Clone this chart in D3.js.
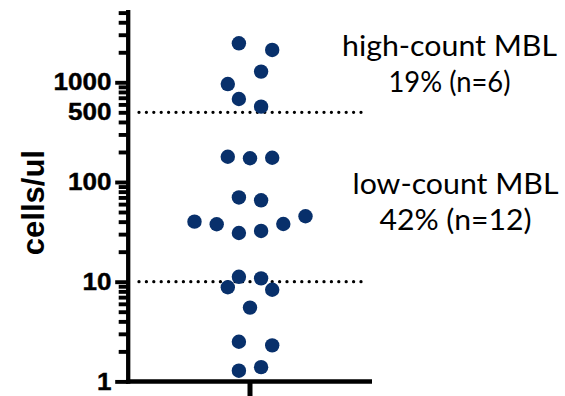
<!DOCTYPE html>
<html>
<head>
<meta charset="utf-8">
<script src="https://cdn.jsdelivr.net/npm/d3@7"></script>
<style>
  html, body { margin: 0; padding: 0; background: #fff; }
  svg { display: block; }
</style>
</head>
<body>
<svg id="chart" width="565" height="396"></svg>
<script>
// Absolute MBL clone counts (cells/ul), one per subject
const cellCounts = [2460, 2110, 1280, 960, 680, 570,
                    179, 173, 175, 70, 65.5,
                    40, 37.7, 30.8, 32.3, 37.9, 45.3,
                    11.2, 10.8, 8.8, 8.3, 5.5,
                    2.5, 2.3, 1.28, 1.39];
// Scatter lane of each point (beeswarm column, relative to the group centre)
const lanes = [-1, 2, 1, -2, -1, 1,
               -2, 0, 2, -1, 1,
               -5, -3, -1, 1, 3, 5,
               -1, 1, -2, 2, 0,
               -1, 2, -1, 1];
const categories = ["MBL"];
// Cut-offs separating low-count and high-count MBL
const cutoffs = [500, 10];
const tickLabels = [1, 10, 100, 500, 1000];
const majorTicks = [1, 10, 100, 1000];
const groupText = [
  ["high-count MBL", "19% (n=6)"],
  ["low-count MBL", "42% (n=12)"]
];
const yTitle = "cells/ul";

const svg = d3.select("#chart");
const navy = "#08306b";

const y = d3.scaleLog().domain([1, 5000]).range([381.4, 12.6]);
const x = d3.scalePoint().domain(categories).range([128, 372]).padding(0.5);
const laneStep = 11.1;

// Minor ticks: 2..9 of every decade
const minorTicks = [];
for (let p = 0; p < 4; p++) {
  for (let m = 2; m <= 9; m++) {
    const v = m * Math.pow(10, p);
    if (v <= 5000) minorTicks.push(v);
  }
}

// Cut-off reference lines (dotted)
svg.append("g").selectAll("line").data(cutoffs).join("line")
  .attr("x1", 139).attr("x2", 368)
  .attr("y1", d => y(d)).attr("y2", d => y(d))
  .attr("stroke", "#000").attr("stroke-width", 3.3)
  .attr("stroke-linecap", "round")
  .attr("stroke-dasharray", "0 7.4");

// Y axis
const yAxis = svg.append("g").attr("transform", "translate(128.2,0)")
  .call(d3.axisLeft(y)
    .tickValues(minorTicks.concat(majorTicks))
    .tickSize(10)
    .tickSizeOuter(0)
    .tickFormat(() => ""));
yAxis.select(".domain").remove();
yAxis.selectAll(".tick line")
  .attr("stroke", "#000").attr("stroke-width", 3.9)
  .attr("x2", d => majorTicks.includes(d) ? -13 : -9.5);
svg.append("line")
  .attr("x1", 128.2).attr("x2", 128.2)
  .attr("y1", 10).attr("y2", 383.7)
  .attr("stroke", "#000").attr("stroke-width", 4.3);

// Tick labels
svg.append("g").selectAll("text").data(tickLabels).join("text")
  .attr("x", 111.5).attr("y", d => y(d))
  .attr("dy", "0.34em")
  .attr("text-anchor", "end")
  .attr("font-family", "Liberation Sans, Arial, sans-serif")
  .attr("font-weight", "bold").attr("font-size", 24)
  .attr("textLength", d => String(d).length * 14.5)
  .attr("lengthAdjust", "spacingAndGlyphs")
  .attr("stroke", "#000").attr("stroke-width", 0.4)
  .attr("fill", "#000")
  .text(d => d);

// X axis
svg.append("line")
  .attr("x1", 126).attr("x2", 372)
  .attr("y1", 381.5).attr("y2", 381.5)
  .attr("stroke", "#000").attr("stroke-width", 4.5);
svg.append("g").selectAll("line").data(categories).join("line")
  .attr("x1", d => x(d)).attr("x2", d => x(d))
  .attr("y1", 381.5).attr("y2", 396)
  .attr("stroke", "#000").attr("stroke-width", 5);

// Y title
svg.append("text")
  .attr("transform", "translate(44,202.6) rotate(-90)")
  .attr("text-anchor", "middle")
  .attr("font-family", "Liberation Sans, Arial, sans-serif")
  .attr("font-weight", "bold").attr("font-size", 31)
  .attr("fill", "#000")
  .text(yTitle);

// Points
svg.append("g").selectAll("circle").data(cellCounts).join("circle")
  .attr("cx", (d, i) => x(categories[0]) + lanes[i] * laneStep)
  .attr("cy", d => y(d))
  .attr("r", 7.2)
  .attr("fill", navy);

// Group annotations
const textPos = [
  { cx: 449.5, base: 55.7, widths: [215, 122] },
  { cx: 455.5, base: 193.5, widths: [206, 152] }
];
groupText.forEach((lines, gi) => {
  lines.forEach((t, li) => {
    svg.append("text")
      .attr("x", textPos[gi].cx)
      .attr("y", textPos[gi].base + li * 36)
      .attr("text-anchor", "middle")
      .attr("font-family", "Lato, 'Open Sans', sans-serif")
      .attr("font-size", 28)
      .attr("textLength", textPos[gi].widths[li])
      .attr("lengthAdjust", "spacingAndGlyphs")
      .attr("fill", "#000")
      .text(t);
  });
});
</script>
</body>
</html>
